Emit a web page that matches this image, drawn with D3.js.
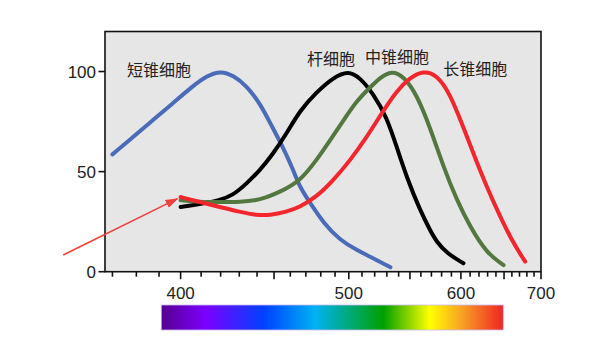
<!DOCTYPE html>
<html>
<head>
<meta charset="utf-8">
<script src="https://cdn.jsdelivr.net/npm/d3@7"></script>
<style>
  body { margin: 0; background: #fff; }
  text { font-family: "Liberation Sans", Arial, "Noto Sans CJK SC", sans-serif; }
</style>
</head>
<body>
<div id="chart"></div>
<script>
// wavelength (nm) and relative sensitivity (%)
const shortCone = [[370,58.6],[378.5,67.2],[387,75.5],[396,83.8],[406,92.9],[413,97.9],[420,100.4],[427,97.9],[434,92.9],[442,83.8],[449,72.1],[455.5,62.2],[462,50.6],[466,42.3],[473,34.2],[482,24.2],[493.5,15.8],[506,10.8],[519,6.7],[533,2.2]];
const rod = [[400,32.3],[409,33.7],[419.5,35.7],[426.6,38.2],[434,44],[441.6,50.6],[449.4,58.9],[457.6,68.9],[466,80.4],[477,89.6],[488.7,97],[499.6,100.4],[508.4,97],[519,88.8],[530,77.1],[538.4,62.2],[547,47.3],[559,31],[568.7,20.7],[575,15],[585.3,9.2],[602.7,4.2]];
const midCone = [[400,35.7],[409.3,34.8],[419.5,34.8],[430.3,34.8],[441.6,35.7],[453.5,39.8],[466,45.1],[477,55.6],[486.3,65.5],[496,75.5],[506,85.4],[516.3,92],[524.3,97],[534,100.4],[544,97.9],[556,88.8],[568.7,72.1],[582,52.2],[595.7,35.7],[610,22.4],[629,9.2],[649.4,3.3]];
const longCone = [[400,37.3],[409.3,34.8],[419.5,32.3],[430.3,29.9],[439.7,28.2],[447.4,28.2],[457.6,29.9],[466,32.3],[477,37.3],[488.7,45.6],[501,55.6],[513.7,67.2],[527,80.4],[538.4,90.4],[550,97],[562.4,100.4],[575.3,98.4],[588.7,88.8],[602.7,72.1],[613.8,58.9],[629,42.3],[645.3,27.4],[662,14.1],[677.8,5]];

const seriesNames = ["短锥细胞", "杆细胞", "中锥细胞", "长锥细胞"];
const seriesColors = ["#4a6cb8", "#000000", "#52783f", "#f2262c"];
const seriesData = [shortCone, rod, midCone, longCone];
// label anchor in data units (wavelength, value)
const labelPos = [[376, 100.8], [470.7, 106.3], [512.3, 107], [581.6, 101.3]];

const xMajor = [400, 500, 600, 700];
const xMinor = d3.range(370, 701, 10);
const yTicks = [0, 50, 100];

// spectrum colour stops (fraction along the bar)
const spectrumStops = [[0, "#56008e"], [0.13, "#7c00ff"], [0.3, "#0040ff"], [0.45, "#00b2f2"], [0.65, "#00a000"], [0.785, "#ffff00"], [0.88, "#f8a024"], [1, "#f02424"]];
const spectrumRange = [391, 649];

// arrow from outside the plot to the start of the curves
const arrowFrom = [351, 8.3], arrowTo = [398.5, 36.5];

const width = 600, height = 352;
const margin = {left: 105, right: 59, top: 31.5, bottom: 80.3};

const svg = d3.select("#chart").append("svg")
    .attr("width", width)
    .attr("height", height);

// x axis is linear in 1/wavelength
const x = d3.scalePow().exponent(-1)
    .domain([367, 700])
    .range([margin.left, width - margin.right]);
const y = d3.scaleLinear()
    .domain([0, 120])
    .range([height - margin.bottom, margin.top]);

svg.append("rect")
    .attr("x", margin.left).attr("y", margin.top)
    .attr("width", width - margin.left - margin.right)
    .attr("height", height - margin.top - margin.bottom)
    .attr("fill", "#e6e6e6")
    .attr("stroke", "#111")
    .attr("stroke-width", 1.6);

const x0 = y(0);
svg.append("g").selectAll("line").data(xMinor).join("line")
    .attr("x1", d => x(d)).attr("x2", d => x(d))
    .attr("y1", x0).attr("y2", d => x0 + (d % 50 === 0 ? 7.5 : 5))
    .attr("stroke", "#111").attr("stroke-width", 1.6);

svg.append("g").selectAll("text").data(xMajor).join("text")
    .attr("x", d => x(d)).attr("y", x0 + 27)
    .attr("text-anchor", "middle")
    .attr("font-size", 17)
    .attr("fill", "#222")
    .text(d => d);

svg.append("g").selectAll("line").data(yTicks).join("line")
    .attr("x1", margin.left - 6.5).attr("x2", margin.left)
    .attr("y1", d => y(d)).attr("y2", d => y(d))
    .attr("stroke", "#111").attr("stroke-width", 1.6);

svg.append("g").selectAll("text").data(yTicks).join("text")
    .attr("x", margin.left - 9).attr("y", d => y(d))
    .attr("dy", "0.36em")
    .attr("text-anchor", "end")
    .attr("font-size", 17)
    .attr("fill", "#222")
    .text(d => d);

const line = d3.line()
    .x(d => x(d[0]))
    .y(d => y(d[1]))
    .curve(d3.curveBasis);

svg.append("g").selectAll("path").data(seriesData).join("path")
    .attr("d", line)
    .attr("fill", "none")
    .attr("stroke", (d, i) => seriesColors[i])
    .attr("stroke-width", 4)
    .attr("stroke-linecap", "round")
    .attr("stroke-linejoin", "round");

svg.append("g").selectAll("text").data(seriesNames).join("text")
    .attr("x", (d, i) => x(labelPos[i][0]))
    .attr("y", (d, i) => y(labelPos[i][1]))
    .attr("dy", "0.36em")
    .attr("font-family", "'Noto Sans CJK SC', sans-serif")
    .attr("font-size", 16)
    .attr("fill", "#222")
    .text(d => d);

// arrow annotation
const defs = svg.append("defs");
defs.append("marker")
    .attr("id", "arrowhead")
    .attr("viewBox", "0 0 12 8")
    .attr("refX", 11).attr("refY", 4)
    .attr("markerWidth", 13).attr("markerHeight", 9)
    .attr("markerUnits", "userSpaceOnUse")
    .attr("orient", "auto")
    .append("path")
    .attr("d", "M 0 0 L 12 4 L 0 8 Z")
    .attr("fill", "#f2403c");

svg.append("line")
    .attr("x1", x(arrowFrom[0])).attr("y1", y(arrowFrom[1]))
    .attr("x2", x(arrowTo[0])).attr("y2", y(arrowTo[1]))
    .attr("stroke", "#f2403c")
    .attr("stroke-width", 1.6)
    .attr("marker-end", "url(#arrowhead)");

// spectrum bar
const grad = defs.append("linearGradient").attr("id", "spectrum");
grad.selectAll("stop").data(spectrumStops).join("stop")
    .attr("offset", d => d[0])
    .attr("stop-color", d => d[1]);

svg.append("rect")
    .attr("x", x(spectrumRange[0]))
    .attr("y", 305)
    .attr("width", x(spectrumRange[1]) - x(spectrumRange[0]))
    .attr("height", 25)
    .attr("fill", "url(#spectrum)")
    .attr("stroke", "#c9b8f0")
    .attr("stroke-width", 0.8);
</script>
</body>
</html>
